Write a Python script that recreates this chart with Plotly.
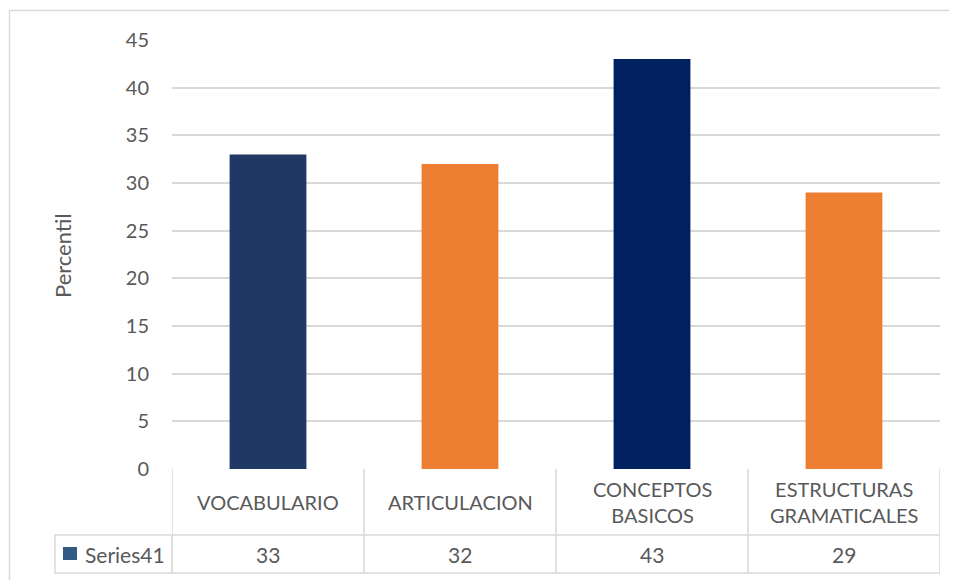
import plotly.graph_objects as go

# ── data ──────────────────────────────────────────────────────────────────────
categories = ["VOCABULARIO", "ARTICULACION", "CONCEPTOS BASICOS", "ESTRUCTURAS GRAMATICALES"]
cat_labels = ["VOCABULARIO", "ARTICULACION", "CONCEPTOS<br>BASICOS", "ESTRUCTURAS<br>GRAMATICALES"]
values = [33, 32, 43, 29]
series_name = "Series41"

# ── style ─────────────────────────────────────────────────────────────────────
BAR_COLORS = ["#203864", "#ED7D31", "#002060", "#ED7D31"]
SWATCH = "#335A84"
GRID = "#D9D9D9"
TEXT = "#595959"
FONT = "Lato, Carlito, 'Liberation Sans', sans-serif"

OFF = 8                       # page body margin
W, H = 957 - OFF, 580 - OFF
L, T = 172 - OFF, 40 - OFF
plot_w = 768
plot_h = 429
R = W - L - plot_w
B = H - T - plot_h


def py(p):
    """reference pixel y -> paper y"""
    return (T + plot_h - (p - OFF)) / plot_h


def px_(p):
    """reference pixel x -> paper x"""
    return (p - OFF - L) / plot_w


x_idx = list(range(len(categories)))

fig = go.Figure(go.Bar(
    x=x_idx,
    y=values,
    width=0.4,
    marker=dict(color=BAR_COLORS, line=dict(width=0)),
    hovertemplate="%{customdata}: %{y}<extra></extra>",
    customdata=categories,
    showlegend=False,
))

shapes = []
annotations = []

# outer chart border (only top/left visible in frame)
shapes.append(dict(type="rect", xref="paper", yref="paper",
                   x0=px_(9.5), x1=px_(W + 40), y0=py(H + 40), y1=py(10.5),
                   line=dict(color="#D9D9D9", width=1.5), layer="below"))

# data table lines
row1_bot = py(535)
row2_bot = py(573)
n = len(categories)
for i in range(n + 1):
    shapes.append(dict(type="line", xref="x", yref="paper",
                       x0=i - 0.5, x1=i - 0.5, y0=0, y1=row2_bot,
                       line=dict(color=GRID, width=1.5)))
shapes.append(dict(type="line", xref="x", yref="paper",
                   x0=-0.5, x1=n - 0.5, y0=row2_bot, y1=row2_bot,
                   line=dict(color=GRID, width=1.5)))
# legend cell
shapes.append(dict(type="rect", xref="paper", yref="paper",
                   x0=px_(55), x1=0, y0=row2_bot, y1=row1_bot,
                   line=dict(color=GRID, width=1.5)))
shapes.append(dict(type="line", xref="x", yref="paper",
                   x0=-0.5, x1=n - 0.5, y0=row1_bot, y1=row1_bot,
                   line=dict(color=GRID, width=1.5)))
# legend swatch
shapes.append(dict(type="rect", xref="paper", yref="paper",
                   x0=px_(63), x1=px_(77), y0=py(560), y1=py(547),
                   fillcolor=SWATCH, line=dict(width=0)))

for i, (lab, v) in enumerate(zip(cat_labels, values)):
    annotations.append(dict(x=i, xref="x", y=(0 + row1_bot) / 2, yref="paper",
                            text=lab, showarrow=False, yanchor="middle",
                            font=dict(size=20, color=TEXT, family=FONT)))
    annotations.append(dict(x=i, xref="x", y=(row1_bot + row2_bot) / 2, yref="paper",
                            text=str(v), showarrow=False, yanchor="middle",
                            font=dict(size=21, color=TEXT, family=FONT)))

annotations.append(dict(x=px_(83), xref="paper", y=(row1_bot + row2_bot) / 2, yref="paper",
                        text=series_name, showarrow=False, xanchor="left", yanchor="middle",
                        font=dict(size=21, color=TEXT, family=FONT)))
annotations.append(dict(x=px_(62), xref="paper", y=py(256), yref="paper",
                        text="Percentil", showarrow=False, textangle=-90,
                        xanchor="center", yanchor="middle",
                        font=dict(size=22, color=TEXT, family=FONT)))

fig.update_layout(
    width=W, height=H,
    margin=dict(l=L, r=R, t=T, b=B),
    paper_bgcolor="white",
    plot_bgcolor="white",
    font=dict(family=FONT, color=TEXT, size=20),
    xaxis=dict(range=[-0.5, n - 0.5], showticklabels=False, showgrid=False,
               zeroline=False, showline=False, ticks=""),
    yaxis=dict(range=[0, 45], dtick=5, showgrid=True, gridcolor=GRID, gridwidth=1.5,
               zeroline=False, showline=False, ticks="", ticklabelstandoff=22,
               tickfont=dict(size=20, color=TEXT, family=FONT)),
    shapes=shapes,
    annotations=annotations,
)

fig.write_html("out.html")
